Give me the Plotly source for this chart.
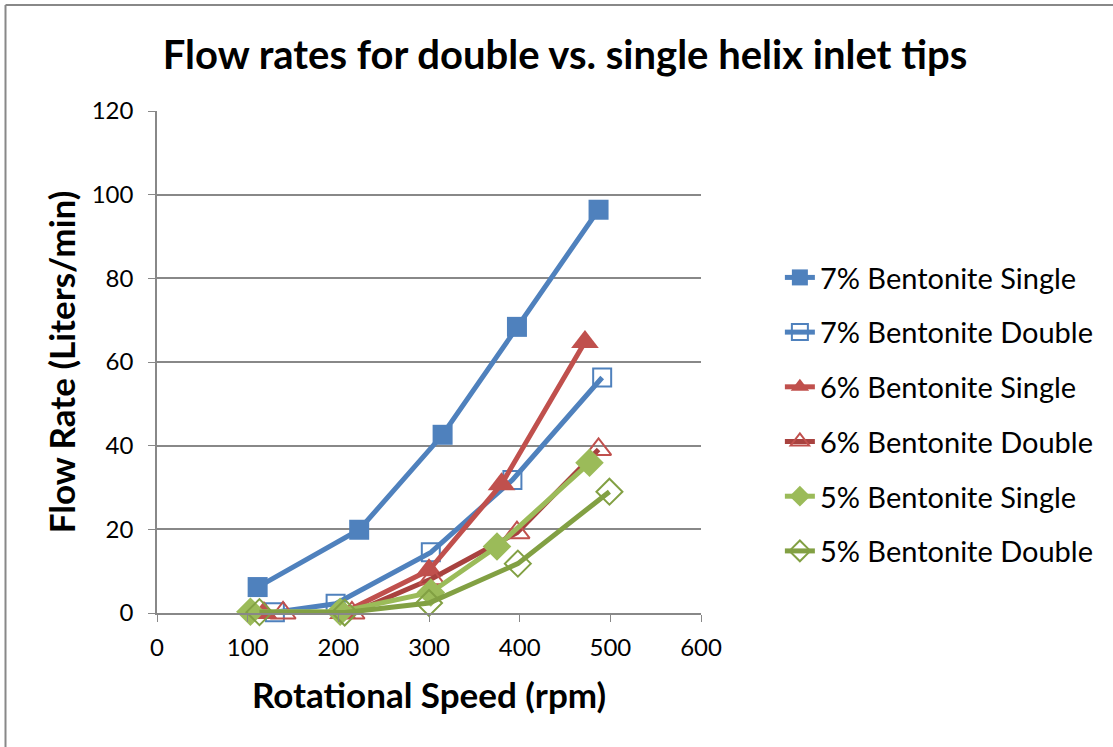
import plotly.graph_objects as go

# Data
s7_x = [111, 223, 315, 397, 487]
s7_y = [6.2, 19.9, 42.6, 68.4, 96.4]
d7_x = [130, 197, 302, 392, 491]
d7_y = [0.2, 2.2, 14.5, 31.8, 56.3]
s6_x = [118, 205, 300, 380, 472]
s6_y = [0.0, 0.0, 10.2, 30.8, 64.8]
d6_x = [139, 215, 303, 397, 487]
d6_y = [0.0, 0.0, 8.2, 19.2, 39.1]
s5_x = [103, 202, 302, 375, 477]
s5_y = [0.3, 0.3, 4.9, 15.9, 35.9]
d5_x = [113, 207, 300, 398, 499]
d5_y = [0.2, 0.1, 2.4, 11.8, 29.0]

names = ["7% Bentonite Single", "7% Bentonite Double", "6% Bentonite Single",
         "6% Bentonite Double", "5% Bentonite Single", "5% Bentonite Double"]

BLUE = "#4F81BD"
RED = "#C0504D"
DRED = "#A8423F"
GREEN = "#9BBB59"
DGREEN = "#82A043"

series = [
    (s7_x, s7_y, BLUE, dict(symbol="square", size=20, color=BLUE, line=dict(width=0))),
    (d7_x, d7_y, BLUE, dict(symbol="square-open", size=18, color=BLUE, line=dict(width=2))),
    (s6_x, s6_y, RED, dict(symbol="triangle-up", size=24, color=RED, line=dict(width=0))),
    (d6_x, d6_y, DRED, dict(symbol="triangle-up-open", size=22, color=RED, line=dict(width=2))),
    (s5_x, s5_y, GREEN, dict(symbol="diamond", size=22, color=GREEN, line=dict(width=0))),
    (d5_x, d5_y, DGREEN, dict(symbol="diamond-open", size=20, color=DGREEN, line=dict(width=2))),
]

fig = go.Figure()
for i, (xs, ys, lc, mk) in enumerate(series):
    fig.add_trace(go.Scatter(
        x=xs, y=ys, name=names[i], mode="lines+markers",
        line=dict(color=lc, width=5), marker=mk,
        legendgroup=f"g{i}", cliponaxis=False,
    ))

FONT = "Lato, Open Sans, sans-serif"

fig.update_layout(
    width=1113, height=747,
    paper_bgcolor="white", plot_bgcolor="white",
    margin=dict(l=157, r=412, t=111, b=134),
    font=dict(family=FONT, color="black", size=24),
    title=dict(text="<b>Flow rates for double vs. single helix inlet tips</b>",
               x=565 / 1113, xanchor="center", y=1 - 55 / 747, yanchor="middle",
               font=dict(size=40, family=FONT, color="black")),
    showlegend=True,
    legend=dict(x=1.145, xanchor="left", y=0.719, yanchor="top",
                font=dict(size=29, family=FONT, color="black"),
                tracegroupgap=14, bgcolor="rgba(0,0,0,0)"),
    xaxis=dict(range=[0, 600], tickvals=[0, 100, 200, 300, 400, 500, 600],
               showgrid=False, zeroline=False, showline=True, linecolor="#888888",
               linewidth=1.5, ticks="outside", ticklen=7, tickcolor="#888888",
               tickfont=dict(size=24), ticklabelstandoff=5,
               title=dict(text="<b>Rotational Speed (rpm)</b>", font=dict(size=35), standoff=24)),
    yaxis=dict(range=[0, 120], tickvals=[0, 20, 40, 60, 80, 100, 120],
               showgrid=True, gridcolor="#888888", gridwidth=1.5, zeroline=False,
               showline=True, linecolor="#888888", linewidth=1.5,
               ticks="outside", ticklen=7, tickcolor="#888888",
               tickfont=dict(size=24), ticklabelstandoff=10,
               title=dict(text="<b>Flow Rate (Liters/min)</b>", font=dict(size=35), standoff=5)),
)

# outer chart border (top and left edges only are visible)
fig.add_shape(type="line", xref="paper", yref="paper",
              x0=(5.5 - 157) / 544, x1=(5.5 - 157) / 544,
              y0=(613 - 760) / 502, y1=(613 - 5) / 502,
              line=dict(color="#888888", width=2), layer="below")
fig.add_shape(type="line", xref="paper", yref="paper",
              x0=(5.5 - 157) / 544, x1=(1120 - 157) / 544,
              y0=(613 - 5) / 502, y1=(613 - 5) / 502,
              line=dict(color="#888888", width=2), layer="below")

fig.write_html("out.html", config={"displayModeBar": False},
               post_script="document.body.style.margin='0px';")
